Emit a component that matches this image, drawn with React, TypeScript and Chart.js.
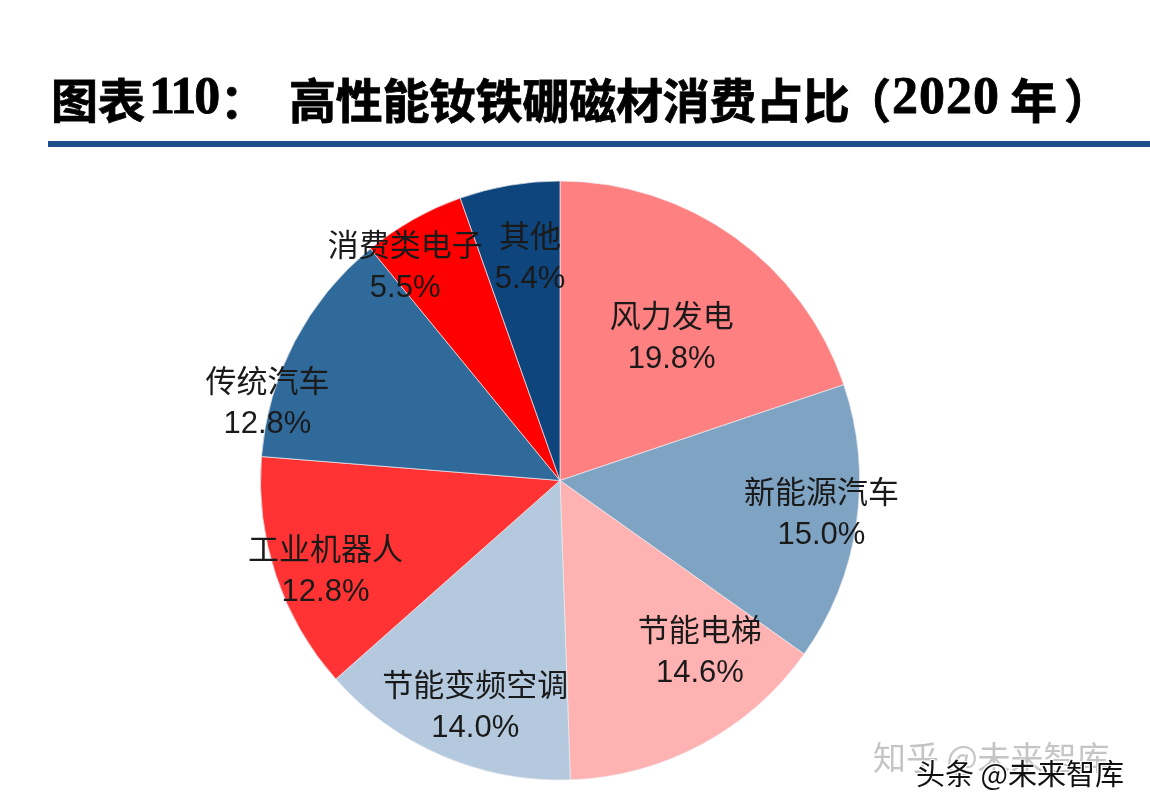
import React, { useEffect, useRef } from "react";
import { Chart, registerables } from "chart.js";

Chart.register(...registerables);

const categories = ["风力发电", "新能源汽车", "节能电梯", "节能变频空调", "工业机器人", "传统汽车", "消费类电子", "其他"];
const shares = [19.8, 15.0, 14.6, 14.0, 12.8, 12.8, 5.5, 5.4];
const valueLabels = ["19.8%", "15.0%", "14.6%", "14.0%", "12.8%", "12.8%", "5.5%", "5.4%"];
const sliceColors = ["#FF8080", "#7FA4C3", "#FFB2B2", "#B4C9DD", "#FF3333", "#2F6A9B", "#FF0000", "#0E457D"];

// label block centres relative to pie centre, in units of the radius
const labelDx = [0.373, 0.873, 0.467, -0.283, -0.783, -0.977, -0.517, -0.1];
const labelDy = [-0.475, 0.113, 0.573, 0.758, 0.305, -0.257, -0.713, -0.743];

const sliceLabelPlugin = {
  id: "sliceLabels",
  afterDatasetsDraw(chart: any) {
    const meta = chart.getDatasetMeta(0);
    const ctx = chart.ctx;
    ctx.save();
    ctx.fillStyle = "#1a1a1a";
    ctx.textAlign = "center";
    ctx.textBaseline = "middle";
    meta.data.forEach((arc: any, i: number) => {
      const r = arc.outerRadius;
      const cx = arc.x + labelDx[i] * r;
      const cy = arc.y + labelDy[i] * r;
      ctx.font = "400 31px 'Liberation Sans', 'Noto Sans CJK SC', sans-serif";
      ctx.fillText(categories[i], cx, cy - 20);
      ctx.font = "400 31px 'Liberation Sans', Arial, sans-serif";
      ctx.fillText(valueLabels[i], cx, cy + 21);
    });
    ctx.restore();
  },
};

export default function App() {
  const canvasRef = useRef<HTMLCanvasElement | null>(null);

  useEffect(() => {
    document.body.style.margin = "0";
    const canvas = canvasRef.current;
    if (!canvas) return;
    const chart = new Chart(canvas, {
      type: "pie",
      data: {
        labels: categories,
        datasets: [
          {
            data: shares,
            backgroundColor: sliceColors,
            borderColor: "rgba(235,235,240,0.7)",
            borderWidth: 1,
          },
        ],
      },
      options: {
        responsive: false,
        animation: false,
        devicePixelRatio: 1,
        layout: { padding: { left: 260, right: 290, top: 180, bottom: 31 } },
        plugins: {
          legend: { display: false },
          tooltip: { enabled: false },
        },
      },
      plugins: [sliceLabelPlugin],
    });
    return () => chart.destroy();
  }, []);

  const cjk = "'Noto Sans CJK SC', 'Noto Sans', sans-serif";
  const serif = "'Liberation Serif', 'DejaVu Serif', serif";
  const titleBase: React.CSSProperties = {
    position: "absolute",
    top: 74,
    fontSize: 47,
    lineHeight: "48px",
    fontWeight: 700,
    color: "#000",
    whiteSpace: "pre",
    fontFamily: cjk,
    WebkitTextStroke: "0.8px #000",
  };
  const digit: React.CSSProperties = { ...titleBase, fontFamily: serif, fontSize: 52, top: 72 };

  return (
    <div style={{ position: "absolute", left: 0, top: 0, width: 1150, height: 812, background: "#fff", overflow: "hidden" }}>
      <canvas ref={canvasRef} width={1150} height={812} style={{ position: "absolute", left: 0, top: 0, width: 1150, height: 812 }} />
      <span style={{ ...titleBase, left: 51 }}>图表</span>
      <span style={{ ...digit, left: 149, letterSpacing: -2 }}>110</span>
      <span style={{ ...titleBase, left: 220 }}>：</span>
      <span style={{ ...titleBase, left: 289, letterSpacing: -0.3 }}>高性能钕铁硼磁材消费占比</span>
      <span style={{ ...titleBase, left: 844 }}>（</span>
      <span style={{ ...digit, left: 892, letterSpacing: 1 }}>2020</span>
      <span style={{ ...titleBase, left: 1010 }}>年</span>
      <span style={{ ...titleBase, left: 1064 }}>）</span>
      <div style={{ position: "absolute", left: 48, top: 141, width: 1102, height: 6, background: "#1F4E8A" }} />
      <span style={{ position: "absolute", left: 873, top: 736, fontSize: 33, lineHeight: "40px", fontFamily: cjk, color: "rgba(150,150,150,0.55)", whiteSpace: "pre" }}>
        知乎 @未来智库
      </span>
      <span style={{ position: "absolute", left: 916, top: 754, fontSize: 29, lineHeight: "36px", fontFamily: cjk, color: "#111", whiteSpace: "pre", textShadow: "1px 1px 0 #fff, -1px -1px 0 #fff, 1px -1px 0 #fff, -1px 1px 0 #fff" }}>
        头条 @未来智库
      </span>
    </div>
  );
}
